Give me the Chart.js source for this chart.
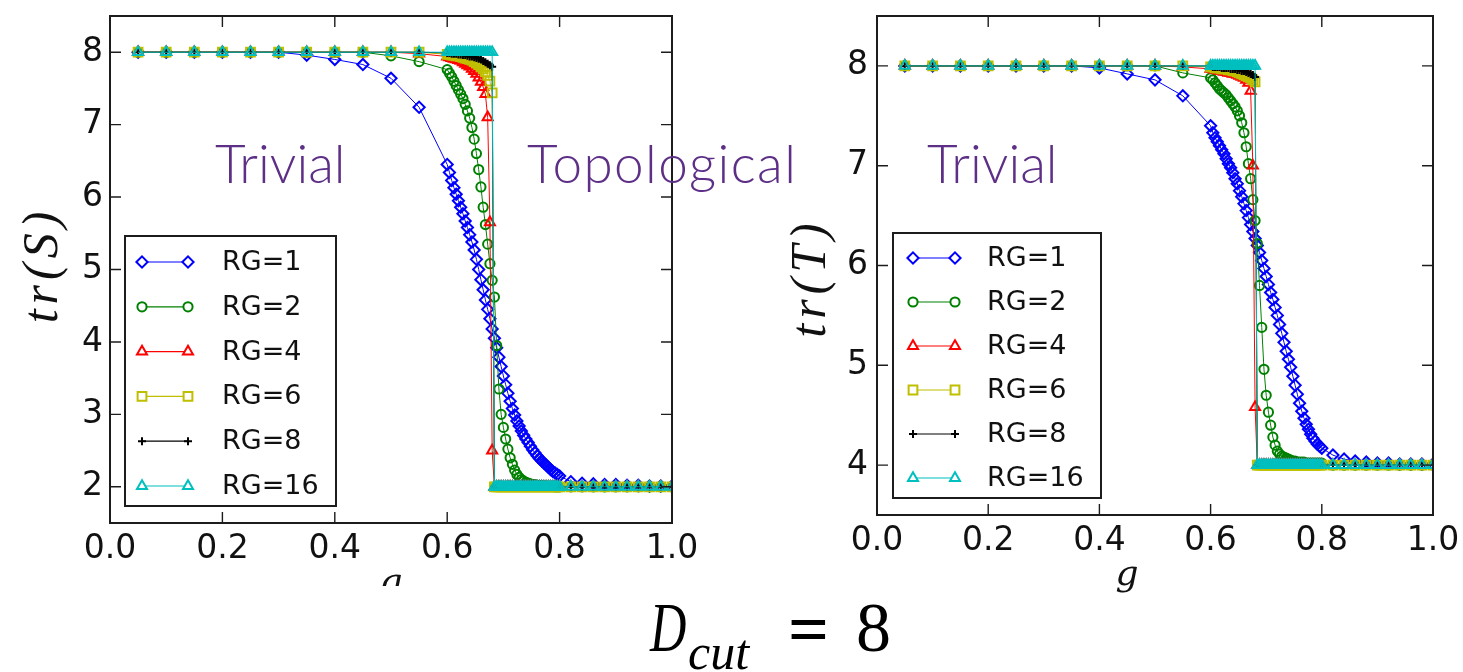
<!DOCTYPE html>
<html>
<head>
<meta charset="utf-8">
<script src="https://cdn.jsdelivr.net/npm/chart.js@4.4.0/dist/chart.umd.min.js"></script>
<style>
  body { margin: 0; width: 1463px; height: 672px; background: #fff; position: relative; overflow: hidden; }
  canvas { position: absolute; top: 0; }
  .phase { position: absolute; font-family: Lato, "Open Sans", sans-serif; font-weight: 300; font-size: 53px; line-height: 1; color: #5d2f86; white-space: nowrap; }
  .eq { position: absolute; font-family: "Liberation Serif", "Times New Roman", Times, serif; line-height: 1; color: #000; white-space: nowrap; }
</style>
</head>
<body>
<canvas id="chartS" width="720" height="586" style="left:0"></canvas>
<canvas id="chartT" width="703" height="600" style="left:760px"></canvas>

<div class="phase" style="left:215px; top:136px">Trivial</div>
<div class="phase" style="left:527px; top:136px; letter-spacing:1.4px">Topological</div>
<div class="phase" style="left:927px; top:136px">Trivial</div>

<div class="eq" style="left:650px; top:593px; font-size:70px; font-style:italic; transform:scaleX(0.72); transform-origin:0 0">D</div>
<div class="eq" style="left:688px; top:627px; font-size:50px; font-style:italic">cut</div>
<div class="eq" style="left:788px; top:593px; font-size:72px; font-weight:bold">=</div>
<div class="eq" style="left:856px; top:593px; font-size:70px">8</div>

<script>
// g grid: 0.05 steps up to 0.55, 0.004 steps through the transition, 0.02 steps after 0.8
const gValues = [
  0.05, 0.10, 0.15, 0.20, 0.25, 0.30, 0.35, 0.40, 0.45, 0.50, 0.55,
  0.600, 0.604, 0.608, 0.612, 0.616, 0.620, 0.624, 0.628, 0.632, 0.636,
  0.640, 0.644, 0.648, 0.652, 0.656, 0.660, 0.664, 0.668, 0.672, 0.676,
  0.680, 0.684, 0.688, 0.692, 0.696, 0.700, 0.704, 0.708, 0.712, 0.716,
  0.720, 0.724, 0.728, 0.732, 0.736, 0.740, 0.744, 0.748, 0.752, 0.756,
  0.760, 0.764, 0.768, 0.772, 0.776, 0.780, 0.784, 0.788, 0.792, 0.796,
  0.800,
  0.82, 0.84, 0.86, 0.88, 0.90, 0.92, 0.94, 0.96, 0.98, 1.00
];

const rgLabels = ['RG=1', 'RG=2', 'RG=4', 'RG=6', 'RG=8', 'RG=16'];

const xTicks = [0.0, 0.2, 0.4, 0.6, 0.8, 1.0];
const yTicksS = [2, 3, 4, 5, 6, 7, 8];
const yTicksT = [4, 5, 6, 7, 8];

// left panel: tr(S)
const trS_rg1 = [
  8.00, 8.00, 8.00, 8.00, 8.00, 8.00, 7.96, 7.90, 7.83, 7.64, 7.24,
  6.45, 6.34, 6.23, 6.13, 6.04, 5.95, 5.86, 5.77, 5.67, 5.58,
  5.48, 5.38, 5.27, 5.14, 5.00, 4.86, 4.72, 4.58, 4.45, 4.32,
  4.18, 4.05, 3.92, 3.79, 3.66, 3.53, 3.41, 3.29, 3.18, 3.08,
  2.99, 2.91, 2.84, 2.77, 2.71, 2.66, 2.61, 2.56, 2.51, 2.47,
  2.43, 2.39, 2.36, 2.33, 2.30, 2.27, 2.24, 2.21, 2.19, 2.17,
  2.15,
  2.07, 2.05, 2.04, 2.03, 2.03, 2.02, 2.02, 2.01, 2.01, 2.01
];
const trS_rg2 = [
  8.00, 8.00, 8.00, 8.00, 8.00, 8.00, 8.00, 8.00, 8.00, 7.95, 7.87,
  7.76, 7.71, 7.66, 7.60, 7.54, 7.48, 7.42, 7.36, 7.28, 7.19,
  7.09, 6.96, 6.80, 6.60, 6.38, 6.14, 5.86, 5.62, 5.35, 5.08,
  4.85, 4.62, 3.95, 3.35, 3.00, 2.82, 2.66, 2.52, 2.40, 2.31,
  2.23, 2.17, 2.13, 2.10, 2.08, 2.06, 2.05, 2.04, 2.03, 2.03,
  2.02, 2.02, 2.02, 2.01, 2.01, 2.01, 2.01, 2.01, 2.00, 2.00,
  2.00,
  2.00, 2.00, 2.00, 2.00, 2.00, 2.00, 2.00, 2.00, 2.00, 2.00
];
const trS_rg4 = [
  8.00, 8.00, 8.00, 8.00, 8.00, 8.00, 8.00, 8.00, 8.00, 8.00, 7.98,
  7.94, 7.93, 7.92, 7.91, 7.90, 7.89, 7.88, 7.86, 7.84, 7.82,
  7.80, 7.77, 7.74, 7.70, 7.65, 7.59, 7.52, 7.42, 7.10, 5.65,
  2.50, 2.00, 2.00, 2.00, 2.00, 2.00, 2.00, 2.00, 2.00, 2.00,
  2.00, 2.00, 2.00, 2.00, 2.00, 2.00, 2.00, 2.00, 2.00, 2.00,
  2.00, 2.00, 2.00, 2.00, 2.00, 2.00, 2.00, 2.00, 2.00, 2.00,
  2.00,
  2.00, 2.00, 2.00, 2.00, 2.00, 2.00, 2.00, 2.00, 2.00, 2.00
];
const trS_rg6 = [
  8.00, 8.00, 8.00, 8.00, 8.00, 8.00, 8.00, 8.00, 8.00, 8.00, 8.00,
  7.97, 7.97, 7.96, 7.96, 7.95, 7.95, 7.94, 7.93, 7.92, 7.91,
  7.90, 7.89, 7.87, 7.85, 7.83, 7.80, 7.77, 7.73, 7.68, 7.60,
  7.44, 2.00, 2.00, 2.00, 2.00, 2.00, 2.00, 2.00, 2.00, 2.00,
  2.00, 2.00, 2.00, 2.00, 2.00, 2.00, 2.00, 2.00, 2.00, 2.00,
  2.00, 2.00, 2.00, 2.00, 2.00, 2.00, 2.00, 2.00, 2.00, 2.00,
  2.00,
  2.00, 2.00, 2.00, 2.00, 2.00, 2.00, 2.00, 2.00, 2.00, 2.00
];
const trS_rg8 = [
  8.00, 8.00, 8.00, 8.00, 8.00, 8.00, 8.00, 8.00, 8.00, 8.00, 8.00,
  7.99, 7.99, 7.98, 7.98, 7.98, 7.97, 7.97, 7.96, 7.96, 7.95,
  7.94, 7.94, 7.93, 7.92, 7.91, 7.90, 7.88, 7.86, 7.84, 7.82,
  7.80, 2.00, 2.00, 2.00, 2.00, 2.00, 2.00, 2.00, 2.00, 2.00,
  2.00, 2.00, 2.00, 2.00, 2.00, 2.00, 2.00, 2.00, 2.00, 2.00,
  2.00, 2.00, 2.00, 2.00, 2.00, 2.00, 2.00, 2.00, 2.00, 2.00,
  2.00,
  2.00, 2.00, 2.00, 2.00, 2.00, 2.00, 2.00, 2.00, 2.00, 2.00
];
const trS_rg16 = [
  8.00, 8.00, 8.00, 8.00, 8.00, 8.00, 8.00, 8.00, 8.00, 8.00, 8.00,
  8.00, 8.00, 8.00, 8.00, 8.00, 8.00, 8.00, 8.00, 8.00, 8.00,
  8.00, 8.00, 8.00, 8.00, 8.00, 8.00, 8.00, 8.00, 8.00, 8.00,
  8.00, 2.00, 2.00, 2.00, 2.00, 2.00, 2.00, 2.00, 2.00, 2.00,
  2.00, 2.00, 2.00, 2.00, 2.00, 2.00, 2.00, 2.00, 2.00, 2.00,
  2.00, 2.00, 2.00, 2.00, 2.00, 2.00, 2.00, 2.00, 2.00, 2.00,
  2.00,
  2.00, 2.00, 2.00, 2.00, 2.00, 2.00, 2.00, 2.00, 2.00, 2.00
];

// right panel: tr(T)
const trT_rg1 = [
  8.00, 8.00, 8.00, 8.00, 8.00, 8.00, 8.00, 7.98, 7.92, 7.86, 7.70,
  7.40, 7.33, 7.28, 7.24, 7.20, 7.16, 7.12, 7.07, 7.02, 6.98,
  6.93, 6.87, 6.82, 6.75, 6.69, 6.62, 6.55, 6.48, 6.41, 6.34,
  6.27, 6.20, 6.13, 6.05, 5.97, 5.89, 5.81, 5.73, 5.66, 5.58,
  5.50, 5.41, 5.32, 5.23, 5.14, 5.06, 4.98, 4.89, 4.80, 4.71,
  4.62, 4.54, 4.47, 4.41, 4.36, 4.31, 4.27, 4.24, 4.21, 4.19,
  4.17,
  4.10, 4.06, 4.04, 4.03, 4.02, 4.02, 4.01, 4.01, 4.01, 4.01
];
const trT_rg2 = [
  8.00, 8.00, 8.00, 8.00, 8.00, 8.00, 8.00, 8.00, 8.00, 8.00, 7.93,
  7.88, 7.86, 7.83, 7.80, 7.77, 7.75, 7.73, 7.71, 7.68, 7.65,
  7.62, 7.59, 7.55, 7.50, 7.43, 7.33, 7.19, 7.02, 6.87, 6.66,
  6.45, 6.22, 5.80, 5.38, 4.96, 4.70, 4.53, 4.40, 4.28, 4.20,
  4.14, 4.11, 4.09, 4.08, 4.07, 4.06, 4.05, 4.04, 4.04, 4.03,
  4.03, 4.03, 4.03, 4.02, 4.02, 4.02, 4.02, 4.02, 4.02, 4.02,
  4.02,
  4.00, 4.00, 4.00, 4.00, 4.00, 4.00, 4.00, 4.00, 4.00, 4.00
];
const trT_rg4 = [
  8.00, 8.00, 8.00, 8.00, 8.00, 8.00, 8.00, 8.00, 8.00, 8.00, 7.99,
  7.97, 7.97, 7.96, 7.96, 7.95, 7.95, 7.94, 7.94, 7.93, 7.93,
  7.92, 7.92, 7.91, 7.90, 7.89, 7.88, 7.86, 7.83, 7.75, 7.00,
  4.58, 4.00, 4.00, 4.00, 4.00, 4.00, 4.00, 4.00, 4.00, 4.00,
  4.00, 4.00, 4.00, 4.00, 4.00, 4.00, 4.00, 4.00, 4.00, 4.00,
  4.00, 4.00, 4.00, 4.00, 4.00, 4.00, 4.00, 4.00, 4.00, 4.00,
  4.00,
  4.00, 4.00, 4.00, 4.00, 4.00, 4.00, 4.00, 4.00, 4.00, 4.00
];
const trT_rg6 = [
  8.00, 8.00, 8.00, 8.00, 8.00, 8.00, 8.00, 8.00, 8.00, 8.00, 8.00,
  7.99, 7.99, 7.98, 7.98, 7.98, 7.97, 7.97, 7.97, 7.96, 7.96,
  7.95, 7.95, 7.94, 7.93, 7.92, 7.91, 7.90, 7.89, 7.88, 7.86,
  7.84, 4.00, 4.00, 4.00, 4.00, 4.00, 4.00, 4.00, 4.00, 4.00,
  4.00, 4.00, 4.00, 4.00, 4.00, 4.00, 4.00, 4.00, 4.00, 4.00,
  4.00, 4.00, 4.00, 4.00, 4.00, 4.00, 4.00, 4.00, 4.00, 4.00,
  4.00,
  4.00, 4.00, 4.00, 4.00, 4.00, 4.00, 4.00, 4.00, 4.00, 4.00
];
const trT_rg8 = [
  8.00, 8.00, 8.00, 8.00, 8.00, 8.00, 8.00, 8.00, 8.00, 8.00, 8.00,
  8.00, 7.99, 7.99, 7.99, 7.99, 7.98, 7.98, 7.98, 7.98, 7.97,
  7.97, 7.97, 7.96, 7.96, 7.95, 7.95, 7.94, 7.93, 7.92, 7.91,
  7.89, 4.00, 4.00, 4.00, 4.00, 4.00, 4.00, 4.00, 4.00, 4.00,
  4.00, 4.00, 4.00, 4.00, 4.00, 4.00, 4.00, 4.00, 4.00, 4.00,
  4.00, 4.00, 4.00, 4.00, 4.00, 4.00, 4.00, 4.00, 4.00, 4.00,
  4.00,
  4.00, 4.00, 4.00, 4.00, 4.00, 4.00, 4.00, 4.00, 4.00, 4.00
];
const trT_rg16 = [
  8.00, 8.00, 8.00, 8.00, 8.00, 8.00, 8.00, 8.00, 8.00, 8.00, 8.00,
  8.00, 8.00, 8.00, 8.00, 8.00, 8.00, 8.00, 8.00, 8.00, 8.00,
  8.00, 8.00, 8.00, 8.00, 8.00, 8.00, 8.00, 8.00, 8.00, 8.00,
  8.00, 4.00, 4.00, 4.00, 4.00, 4.00, 4.00, 4.00, 4.00, 4.00,
  4.00, 4.00, 4.00, 4.00, 4.00, 4.00, 4.00, 4.00, 4.00, 4.00,
  4.00, 4.00, 4.00, 4.00, 4.00, 4.00, 4.00, 4.00, 4.00, 4.00,
  4.00,
  4.00, 4.00, 4.00, 4.00, 4.00, 4.00, 4.00, 4.00, 4.00, 4.00
];

// matplotlib-like line/marker styles, one per RG series
const seriesStyle = [
  { color: '#0000ff', marker: 'rectRot',  radius: 5.6 },
  { color: '#008000', marker: 'circle',   radius: 4.6 },
  { color: '#ff0000', marker: 'triangle', radius: 5.8 },
  { color: '#bfbf00', marker: 'rect',     radius: 6.2 },
  { color: '#000000', marker: 'cross',    radius: 4 },
  { color: '#00bfbf', marker: 'triangle', radius: 5.8 }
];

function buildDatasets(seriesList) {
  return seriesList.map((vals, i) => ({
    label: rgLabels[i],
    data: gValues.map((g, j) => ({ x: g, y: vals[j] })),
    showLine: true,
    borderColor: seriesStyle[i].color,
    borderWidth: 1,
    pointStyle: seriesStyle[i].marker,
    pointRadius: seriesStyle[i].radius,
    pointBorderColor: seriesStyle[i].color,
    pointBackgroundColor: 'rgba(0,0,0,0)',
    pointBorderWidth: 2,
    order: seriesList.length - i   // later RG series drawn on top
  }));
}

const framePlugin = {
  id: 'frame',
  afterDatasetsDraw(chart, args, o) {
    const { ctx, chartArea: a, scales: { x, y } } = chart;
    ctx.save();

    // inward ticks on all four sides
    ctx.strokeStyle = '#1c1c1c';
    ctx.lineWidth = 1.4;
    ctx.beginPath();
    x.ticks.forEach(t => {
      const px = x.getPixelForValue(t.value);
      ctx.moveTo(px, a.bottom); ctx.lineTo(px, a.bottom - 11);
      ctx.moveTo(px, a.top); ctx.lineTo(px, a.top + 11);
    });
    y.ticks.forEach(t => {
      const py = y.getPixelForValue(t.value);
      ctx.moveTo(a.left, py); ctx.lineTo(a.left + 11, py);
      ctx.moveTo(a.right, py); ctx.lineTo(a.right - 11, py);
    });
    ctx.stroke();
    ctx.lineWidth = 2;
    ctx.strokeRect(a.left, a.top, a.right - a.left, a.bottom - a.top);

    // legend box
    const L = o.legend;
    ctx.fillStyle = '#fff';
    ctx.fillRect(L.x, L.y, L.w, L.h);
    ctx.strokeStyle = '#1c1c1c';
    ctx.lineWidth = 2;
    ctx.strokeRect(L.x, L.y, L.w, L.h);
    ctx.font = '27px "DejaVu Sans"';
    ctx.textBaseline = 'middle';
    ctx.textAlign = 'left';
    chart.data.datasets.forEach((ds, i) => {
      const ry = L.y + L.first + i * L.step;
      ctx.strokeStyle = ds.borderColor;
      ctx.lineWidth = 1.2;
      ctx.beginPath();
      ctx.moveTo(L.m1, ry); ctx.lineTo(L.m2, ry);
      ctx.stroke();
      [L.m1, L.m2].forEach(mx => {
        ctx.fillStyle = '#fff';
        ctx.strokeStyle = ds.pointBorderColor;
        ctx.lineWidth = ds.pointBorderWidth;
        Chart.helpers.drawPoint(ctx, {
          pointStyle: ds.pointStyle, radius: ds.pointRadius,
          borderWidth: ds.pointBorderWidth, rotation: 0
        }, mx, ry);
      });
      ctx.fillStyle = '#111';
      ctx.fillText(ds.label, L.tx, ry + 1);
    });

    // axis titles
    ctx.fillStyle = '#111';
    ctx.textAlign = 'center';
    ctx.textBaseline = 'alphabetic';
    ctx.font = 'italic 36px "DejaVu Serif"';
    ctx.fillText(o.xTitle.text, o.xTitle.x, o.xTitle.y);
    ctx.translate(o.yTitle.x, o.yTitle.y);
    ctx.rotate(-Math.PI / 2);
    ctx.textBaseline = 'middle';
    ctx.font = 'italic 50px "Liberation Serif"';
    ctx.letterSpacing = '5px';
    ctx.fillText(o.yTitle.text, 2, 0);

    ctx.restore();
  }
};

function makePanel(canvasId, seriesList, yTicks, yMin, box) {
  return new Chart(document.getElementById(canvasId), {
    type: 'scatter',
    data: { datasets: buildDatasets(seriesList) },
    options: {
      responsive: false,
      animation: false,
      events: [],
      layout: { padding: { left: 0, top: box.top, right: box.right, bottom: 0 } },
      scales: {
        x: {
          type: 'linear', min: 0, max: 1,
          grid: { display: false, drawTicks: false },
          border: { display: false },
          afterBuildTicks: s => { s.ticks = xTicks.map(v => ({ value: v })); },
          afterFit: s => { s.height = box.xHeight; s.paddingLeft = 0; s.paddingRight = 0; },
          ticks: {
            callback: v => v.toFixed(1),
            font: { family: 'DejaVu Sans', size: 33 },
            color: '#111', padding: 7, maxRotation: 0, autoSkip: false
          }
        },
        y: {
          type: 'linear', min: yMin, max: 8.5,
          grid: { display: false, drawTicks: false },
          border: { display: false },
          afterBuildTicks: s => { s.ticks = yTicks.map(v => ({ value: v })); },
          afterFit: s => { s.width = box.yWidth; s.paddingTop = 0; s.paddingBottom = 0; },
          ticks: {
            callback: v => String(v),
            font: { family: 'DejaVu Sans', size: 33 },
            color: '#111', padding: box.yPad, autoSkip: false
          }
        }
      },
      plugins: {
        legend: { display: false },
        tooltip: { enabled: false },
        frame: box.frame
      }
    },
    plugins: [framePlugin]
  });
}

makePanel('chartS',
  [trS_rg1, trS_rg2, trS_rg4, trS_rg6, trS_rg8, trS_rg16],
  yTicksS, 1.5,
  {
    top: 16, right: 48, xHeight: 63, yWidth: 110, yPad: 7,
    frame: {
      legend: { x: 125, y: 236, w: 211, h: 270, first: 26, step: 44.8, m1: 142, m2: 188, tx: 222 },
      xTitle: { text: 'g', x: 391, y: 593 },
      yTitle: { text: 'tr(S)', x: 44, y: 267 }
    }
  });

makePanel('chartT',
  [trT_rg1, trT_rg2, trT_rg4, trT_rg6, trT_rg8, trT_rg16],
  yTicksT, 3.5,
  {
    top: 16, right: 30, xHeight: 85, yWidth: 117, yPad: 9,
    frame: {
      legend: { x: 133, y: 233, w: 208, h: 265, first: 25, step: 44, m1: 153, m2: 195, tx: 227 },
      xTitle: { text: 'g', x: 367, y: 585 },
      yTitle: { text: 'tr(T)', x: 52, y: 280 }
    }
  });
</script>
</body>
</html>
